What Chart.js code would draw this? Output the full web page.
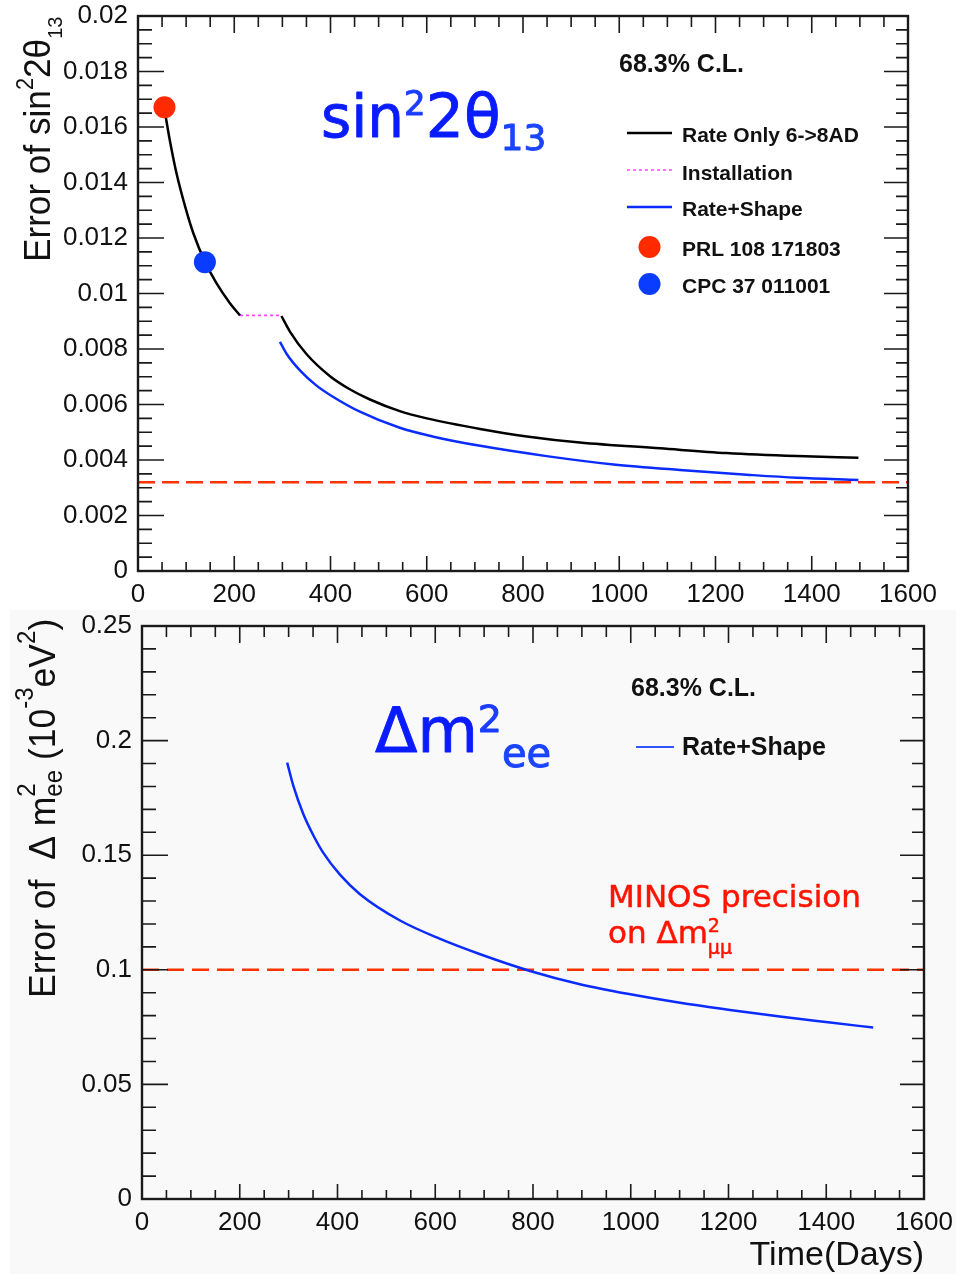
<!DOCTYPE html>
<html>
<head>
<meta charset="utf-8">
<title>Precision vs time</title>
<script src="https://cdn.jsdelivr.net/npm/chart.js@4.4.1/dist/chart.umd.min.js"></script>
<style>
  html, body { margin: 0; padding: 0; background: #fff; }
  #wrap { position: relative; width: 961px; height: 1274px; }
  canvas { position: absolute; left: 0; display: block; }
  #sinChart { top: 0; }
  #dmChart { top: 610px; }
</style>
</head>
<body>
<div id="wrap">
  <canvas id="sinChart" width="961" height="610"></canvas>
  <canvas id="dmChart" width="961" height="664"></canvas>
</div>
<script>
// time axis (days), shared by both panels
const dayTicks = [0, 200, 400, 600, 800, 1000, 1200, 1400, 1600];
const dayTickLabels = ['0', '200', '400', '600', '800', '1000', '1200', '1400', '1600'];

// --- sin^2(2 theta13) panel ---
const sinTicks = [0, 0.002, 0.004, 0.006, 0.008, 0.01, 0.012, 0.014, 0.016, 0.018, 0.02];
const sinTickLabels = ['0', '0.002', '0.004', '0.006', '0.008', '0.01', '0.012', '0.014', '0.016', '0.018', '0.02'];

// rate only, 6AD period then 8AD period (null = installation gap)
const rateOnlyDays = [57, 66, 80, 98, 115, 139, 163, 191, 212, 255, 298, 316, 350, 399, 440, 482, 544, 600, 711, 808, 918, 1085, 1223, 1369, 1497];
const rateOnlyErr = [0.01643, 0.01553, 0.01433, 0.01313, 0.01217, 0.01115, 0.01037, 0.00965, 0.00921, null,
  0.00919, 0.00862, 0.00782, 0.00702, 0.00655, 0.00618, 0.00576, 0.00550, 0.00512, 0.00485, 0.00463, 0.00442, 0.00425, 0.00414, 0.00408];

const installDays = [212, 298];
const installErr = [0.00921, 0.00921];

const rateShapeDays = [295, 309, 337, 371, 405, 461, 544, 614, 711, 849, 988, 1126, 1265, 1369, 1497];
const rateShapeErr = [0.00826, 0.00782, 0.00722, 0.00668, 0.00628, 0.00574, 0.00516, 0.00484, 0.00451, 0.00414, 0.00384, 0.00364, 0.00347, 0.00336, 0.00328];

const prlDays = [55];
const prlErr = [0.01671];
const cpcDays = [139];
const cpcErr = [0.01113];

const sinGoalDays = [0, 1600];
const sinGoalErr = [0.0032, 0.0032];

// --- delta m^2_ee panel ---
const dmTicks = [0, 0.05, 0.1, 0.15, 0.2, 0.25];
const dmTickLabels = ['0', '0.05', '0.1', '0.15', '0.2', '0.25'];

const dmDays = [297, 310, 330, 351, 371, 405, 446, 528, 610, 692, 794, 896, 999, 1101, 1203, 1305, 1408, 1496];
const dmErr = [0.1904, 0.1800, 0.1680, 0.1585, 0.1510, 0.1415, 0.1330, 0.1215, 0.1135, 0.1068, 0.0995, 0.0937, 0.0893, 0.0856, 0.0825, 0.0796, 0.0770, 0.0748];

const minosDays = [0, 1600];
const minosErr = [0.1, 0.1];

const SANS = '"Liberation Sans", Arial, Helvetica, sans-serif';
const HAND = '"DejaVu Sans", "Noto Sans", sans-serif';

function pts(days, vals) {
  return days.map((d, i) => ({ x: d, y: vals[i] }));
}

function lineSet(label, days, vals, color, width, dash) {
  return {
    label, data: pts(days, vals), showLine: true, borderColor: color, backgroundColor: color,
    borderWidth: width, borderDash: dash || [], pointRadius: 0, fill: false,
    cubicInterpolationMode: 'monotone', spanGaps: false
  };
}

function dotSet(label, days, vals, color) {
  return {
    label, data: pts(days, vals), showLine: false, pointRadius: 11,
    pointBackgroundColor: color, pointBorderColor: color, pointBorderWidth: 0,
    backgroundColor: color, borderColor: color
  };
}

// text made of pieces with their own size / baseline shift
function drawParts(ctx, x, y, parts, thicken) {
  let cx = x;
  parts.forEach(p => {
    ctx.font = p.font;
    ctx.fillStyle = p.color;
    ctx.fillText(p.text, cx, y + (p.dy || 0));
    if (thicken) {
      ctx.strokeStyle = p.color;
      ctx.lineWidth = thicken;
      ctx.lineJoin = 'round';
      ctx.strokeText(p.text, cx, y + (p.dy || 0));
    }
    if (!p.stack) cx += ctx.measureText(p.text).width;
  });
}

function rotatedTitle(ctx, x, y, squeeze, parts) {
  ctx.save();
  ctx.translate(x, y);
  ctx.rotate(-Math.PI / 2);
  ctx.scale(squeeze, 1);
  ctx.textBaseline = 'alphabetic';
  drawParts(ctx, 0, 0, parts);
  ctx.restore();
}

// ROOT-like frame with inward ticks on all four sides
function frameTicks(cfg) {
  return {
    id: 'frameTicks',
    afterDatasetsDraw(chart) {
      const { ctx, chartArea: a, scales: { x, y } } = chart;
      ctx.save();
      ctx.strokeStyle = '#1a1a1a';
      ctx.lineWidth = 1.6;
      ctx.beginPath();
      const nx = Math.round((x.max - x.min) / cfg.xMinor);
      const xEvery = Math.round(cfg.xMajor / cfg.xMinor);
      for (let i = 0; i <= nx; i++) {
        const px = x.getPixelForValue(x.min + i * cfg.xMinor);
        const len = i % xEvery === 0 ? 15 : 9;
        ctx.moveTo(px, a.bottom); ctx.lineTo(px, a.bottom - len);
        ctx.moveTo(px, a.top); ctx.lineTo(px, a.top + len + 2);
      }
      const ny = Math.round((y.max - y.min) / cfg.yMinor);
      const yEvery = Math.round(cfg.yMajor / cfg.yMinor);
      for (let i = 0; i <= ny; i++) {
        const py = y.getPixelForValue(y.min + i * cfg.yMinor);
        const len = i % yEvery === 0 ? 26 : 14;
        ctx.moveTo(a.left, py); ctx.lineTo(a.left + len, py);
        ctx.moveTo(a.right, py); ctx.lineTo(a.right - len + 2, py);
      }
      ctx.stroke();
      ctx.lineWidth = 2.4;
      ctx.strokeRect(a.left, a.top, a.right - a.left, a.bottom - a.top);
      ctx.restore();
    }
  };
}

function axisX(height, extra) {
  return Object.assign({
    type: 'linear', min: 0, max: 1600,
    afterBuildTicks: s => { s.ticks = dayTicks.map(v => ({ value: v })); },
    afterFit: s => { s.height = height; s.paddingLeft = 0; s.paddingRight = 0; },
    grid: { display: false, drawTicks: false },
    border: { display: false },
    ticks: {
      autoSkip: false, maxRotation: 0, padding: 8, color: '#111',
      font: { family: SANS, size: 26 },
      callback: (v, i) => dayTickLabels[i]
    }
  }, extra);
}

function axisY(values, labels, max, width) {
  return {
    type: 'linear', min: 0, max,
    afterBuildTicks: s => { s.ticks = values.map(v => ({ value: v })); },
    afterFit: s => { s.width = width; s.paddingTop = 0; s.paddingBottom = 0; },
    grid: { display: false, drawTicks: false },
    border: { display: false },
    ticks: {
      autoSkip: false, padding: 10, color: '#111',
      font: { family: SANS, size: 26 },
      callback: (v, i) => labels[i]
    }
  };
}

// ---------- top panel ----------
const sinDecor = {
  id: 'sinDecor',
  afterDraw(chart) {
    const ctx = chart.ctx;
    const ds = chart.data.datasets;
    ctx.save();
    ctx.textBaseline = 'alphabetic';
    ctx.fillStyle = '#111';
    ctx.font = 'bold 25px ' + SANS;
    ctx.fillText('68.3% C.L.', 619, 72);

    // legend
    const rows = [
      { i: 2, kind: 'line', y: 133, base: 142 },
      { i: 3, kind: 'line', y: 170, base: 180 },
      { i: 4, kind: 'line', y: 207, base: 216 },
      { i: 0, kind: 'dot', y: 247, base: 256 },
      { i: 1, kind: 'dot', y: 284, base: 293 }
    ];
    rows.forEach(r => {
      const d = ds[r.i];
      if (r.kind === 'line') {
        ctx.save();
        ctx.strokeStyle = d.borderColor;
        ctx.lineWidth = d.borderWidth;
        ctx.setLineDash(d.borderDash);
        ctx.beginPath(); ctx.moveTo(627, r.y); ctx.lineTo(672, r.y); ctx.stroke();
        ctx.restore();
      } else {
        ctx.fillStyle = d.pointBackgroundColor;
        ctx.beginPath(); ctx.arc(649.5, r.y, 11, 0, Math.PI * 2); ctx.fill();
      }
      ctx.fillStyle = '#111';
      ctx.font = 'bold 21px ' + SANS;
      ctx.fillText(d.label, 682, r.base);
    });

    // headline
    const blue = '#0a1cff';
    drawParts(ctx, 321, 137, [
      { text: 'sin', font: '58px ' + HAND, color: blue },
      { text: '2', font: '34px ' + HAND, color: '#1a3cff', dy: -22 },
      { text: '2θ', font: '60px ' + HAND, color: blue },
      { text: '13', font: '36px ' + HAND, color: '#1a44ff', dy: 13 }
    ], 0.9);

    // y title
    const f = '37px ' + SANS, fs = '23px ' + SANS;
    rotatedTitle(ctx, 50, 262, 0.95, [
      { text: 'Error of sin', font: f, color: '#111' },
      { text: '2', font: fs, color: '#111', dy: -17 },
      { text: '2θ', font: f, color: '#111' },
      { text: '13', font: '21px ' + SANS, color: '#111', dy: 12 }
    ]);
    ctx.restore();
  }
};

new Chart(document.getElementById('sinChart'), {
  type: 'scatter',
  data: {
    datasets: [
      dotSet('PRL 108 171803', prlDays, prlErr, '#ff2a00'),
      dotSet('CPC 37 011001', cpcDays, cpcErr, '#0a3cff'),
      lineSet('Rate Only 6->8AD', rateOnlyDays, rateOnlyErr, '#000000', 2.5),
      lineSet('Installation', installDays, installErr, '#ff44ff', 1.6, [3, 3]),
      lineSet('Rate+Shape', rateShapeDays, rateShapeErr, '#0a2cff', 2.5),
      lineSet('goal', sinGoalDays, sinGoalErr, '#ff3300', 2.6, [17, 7])
    ]
  },
  options: {
    responsive: false, animation: false, devicePixelRatio: 1,
    layout: { padding: { left: 0, top: 16, right: 53, bottom: 0 } },
    plugins: { legend: { display: false }, tooltip: { enabled: false } },
    scales: {
      x: axisX(39),
      y: axisY(sinTicks, sinTickLabels, 0.02, 138)
    }
  },
  plugins: [frameTicks({ xMajor: 200, xMinor: 50, yMajor: 0.002, yMinor: 0.0005 }), sinDecor]
});

// ---------- bottom panel ----------
const dmDecor = {
  id: 'dmDecor',
  beforeDraw(chart) {
    const ctx = chart.ctx;
    ctx.save();
    ctx.fillStyle = '#f9f9f9';
    ctx.fillRect(10, 0, 946, chart.height);
    ctx.restore();
  },
  afterDraw(chart) {
    const ctx = chart.ctx;
    const ds = chart.data.datasets;
    const oy = 610; // page offset of this canvas
    ctx.save();
    ctx.textBaseline = 'alphabetic';
    ctx.fillStyle = '#111';
    ctx.font = 'bold 25px ' + SANS;
    ctx.fillText('68.3% C.L.', 631, 696 - oy);

    const d = ds[0];
    ctx.strokeStyle = '#3355ff';
    ctx.lineWidth = 2;
    ctx.beginPath(); ctx.moveTo(636, 747 - oy); ctx.lineTo(674, 747 - oy); ctx.stroke();
    ctx.fillStyle = '#111';
    ctx.font = 'bold 25px ' + SANS;
    ctx.fillText(d.label, 682, 755 - oy);

    const blue = '#0a1cff';
    drawParts(ctx, 375, 752 - oy, [
      { text: 'Δm', font: '62px ' + HAND, color: blue },
      { text: '2', font: '38px ' + HAND, color: '#1a3cff', dy: -20, stack: true },
      { text: '  ', font: '38px ' + HAND, color: blue },
      { text: 'ee', font: '40px ' + HAND, color: '#1a44ff', dy: 15 }
    ], 0.9);

    const red = '#ff1400';
    drawParts(ctx, 608, 907 - oy, [
      { text: 'MINOS precision', font: '31px ' + HAND, color: red }
    ], 0.5);
    drawParts(ctx, 608, 943 - oy, [
      { text: 'on Δm', font: '31px ' + HAND, color: red },
      { text: '2', font: '19px ' + HAND, color: red, dy: -11, stack: true },
      { text: 'μμ', font: '19px ' + HAND, color: red, dy: 11 }
    ], 0.5);

    const f = '37px ' + SANS, fs = '25px ' + SANS;
    rotatedTitle(ctx, 55, 998 - oy, 0.96, [
      { text: 'Error of  Δ m', font: f, color: '#111' },
      { text: '2', font: fs, color: '#111', dy: -20, stack: true },
      { text: 'ee', font: fs, color: '#111', dy: 7 },
      { text: ' (10', font: f, color: '#111' },
      { text: '-3', font: fs, color: '#111', dy: -22 },
      { text: 'eV', font: f, color: '#111' },
      { text: '2', font: fs, color: '#111', dy: -20 },
      { text: ')', font: f, color: '#111' }
    ]);
    ctx.restore();
  }
};

new Chart(document.getElementById('dmChart'), {
  type: 'scatter',
  data: {
    datasets: [
      lineSet('Rate+Shape', dmDays, dmErr, '#0a2cff', 2.5),
      lineSet('MINOS', minosDays, minosErr, '#ff3300', 2.6, [17, 8])
    ]
  },
  options: {
    responsive: false, animation: false, devicePixelRatio: 1,
    layout: { padding: { left: 0, top: 16, right: 37, bottom: 0 } },
    plugins: { legend: { display: false }, tooltip: { enabled: false } },
    scales: {
      x: axisX(75, {
        title: {
          display: true, text: 'Time(Days)', align: 'end', color: '#111',
          font: { family: SANS, size: 34, lineHeight: 1.1 }, padding: 0
        }
      }),
      y: axisY(dmTicks, dmTickLabels, 0.25, 142)
    }
  },
  plugins: [frameTicks({ xMajor: 200, xMinor: 50, yMajor: 0.05, yMinor: 0.01 }), dmDecor]
});
</script>
</body>
</html>
